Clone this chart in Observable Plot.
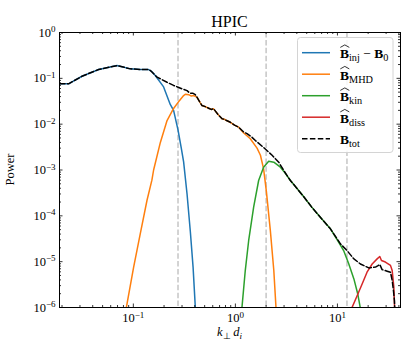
<!DOCTYPE html>
<html><head><meta charset="utf-8">
<script src="https://cdn.jsdelivr.net/npm/d3@7"></script>
<script src="https://cdn.jsdelivr.net/npm/@observablehq/plot@0.6"></script>
<style>
html,body{margin:0;padding:0;background:#fff;}
#chart{width:415px;height:360px;}
</style></head><body><div id="chart"></div>
<script>
// ---- data ----
const injK = [0.0189, 0.0232, 0.0314, 0.0457, 0.0692, 0.0935, 0.117, 0.141, 0.152, 0.164, 0.198, 0.23, 0.248, 0.274, 0.295, 0.311, 0.336, 0.362, 0.385, 0.405, 0.42];
const injP = [0.076, 0.076, 0.111, 0.156, 0.19, 0.161, 0.156, 0.155, 0.14, 0.115, 0.065, 0.027, 0.02, 0.0075, 0.003, 0.0015, 3e-4, 4.5e-5, 7.6e-6, 1e-6, 2e-7];

const mhdK = [0.08, 0.0854, 0.1007, 0.117, 0.136, 0.152, 0.158, 0.184, 0.214, 0.248, 0.284, 0.311, 0.323, 0.349, 0.37, 0.39, 0.42, 0.45, 0.471, 0.51, 0.547, 0.58, 0.612, 0.68, 0.741, 0.78, 0.82, 0.893, 0.98, 1.077, 1.2, 1.4, 1.63, 1.76, 1.89, 2.01, 2.2, 2.38, 2.5, 2.6];
const mhdP = [4e-7, 1e-6, 7.6e-6, 4.1e-5, 2.16e-4, 6e-4, 1.0e-3, 4e-3, 0.012, 0.022, 0.033, 0.042, 0.045, 0.044, 0.041, 0.042, 0.039, 0.03, 0.0255, 0.024, 0.0223, 0.021, 0.0216, 0.016, 0.0131, 0.0128, 0.012, 0.011, 0.0095, 0.0086, 0.0065, 0.0048, 0.003, 0.0021, 0.00106, 3.5e-4, 4.8e-5, 6.4e-6, 1e-6, 2e-7];

const kinK = [1.12, 1.16, 1.25, 1.35, 1.51, 1.69, 1.89, 2.12, 2.38, 2.76, 3.0, 3.46, 4.0, 4.68, 5.6, 6.8, 8.54, 10.3, 11.5, 12.9, 14.5, 15.8, 16.8, 17.5];
const kinP = [3e-7, 1e-6, 6.4e-6, 2.9e-5, 1.55e-4, 5.9e-4, 1.15e-3, 1.55e-3, 1.48e-3, 1.15e-3, 9.2e-4, 5.9e-4, 4.0e-4, 2.6e-4, 1.55e-4, 9.3e-5, 5.2e-5, 2.65e-5, 1.75e-5, 9e-6, 4.2e-6, 2e-6, 9.5e-7, 4e-7];

const dissK = [13.5, 13.9, 15.6, 17.5, 19.5, 21.9, 24.5, 26, 27, 29.5, 33.1, 34.4, 35.7, 36.3, 36.8];
const dissP = [5e-7, 1e-6, 1.8e-6, 3.3e-6, 5.9e-6, 8.9e-6, 1.15e-5, 1.3e-5, 1.06e-5, 9.8e-6, 8.3e-6, 6.4e-6, 2.8e-6, 1e-6, 3e-7];

const totK = [0.0189, 0.0232, 0.0314, 0.0457, 0.0692, 0.0935, 0.117, 0.141, 0.147, 0.171, 0.214, 0.248, 0.275, 0.30, 0.336, 0.36, 0.385, 0.405, 0.42, 0.45, 0.471, 0.51, 0.547, 0.58, 0.612, 0.68, 0.741, 0.78, 0.82, 0.893, 0.98, 1.077, 1.2, 1.3, 1.45, 1.57, 1.89, 2.29, 2.66, 3.0, 3.46, 4.0, 4.68, 5.6, 6.8, 8.54, 10.7, 12.4, 14.5, 16.8, 20.3, 23.6, 25, 26, 27.4, 30.7, 33.1, 34.4, 35.5, 36.2, 36.8];
const totP = [0.076, 0.076, 0.111, 0.156, 0.19, 0.161, 0.156, 0.155, 0.148, 0.106, 0.082, 0.070, 0.064, 0.059, 0.054, 0.047, 0.047, 0.044, 0.039, 0.030, 0.0255, 0.024, 0.0223, 0.021, 0.0216, 0.016, 0.0131, 0.0128, 0.012, 0.011, 0.0095, 0.0086, 0.0068, 0.0062, 0.0052, 0.0044, 0.0031, 0.0021, 0.00148, 9.5e-4, 5.9e-4, 4.0e-4, 2.6e-4, 1.55e-4, 9.3e-5, 5.2e-5, 2.45e-5, 1.75e-5, 1.15e-5, 8.9e-6, 7.3e-6, 7.6e-6, 8.2e-6, 8.7e-6, 6.7e-6, 6.2e-6, 5.9e-6, 3.9e-6, 2.2e-6, 1.4e-6, 5e-7];

const dividers = [0.274, 2.0, 12.4];
const xMajor = [0.1, 1, 10];
const yMajor = [1e-6, 1e-5, 1e-4, 1e-3, 1e-2, 1e-1, 1];
const xDomain = [0.0189, 41.5];
const yDomain = [1e-6, 1];

const legendColors = ["#1f77b4", "#ff7f0e", "#2ca02c", "#d62728", "black"];
const legendSubs = ["inj", "MHD", "kin", "diss", "tot"];
const legendHat = [true, true, true, true, false];

const titleText = "HPIC";
const yLabelText = "Power";

// ---- build ----
const rows = (ks, ps) => ks.map((k, i) => ({k, p: ps[i]}));
const W = 415, H = 360, mL = 59, mR = 15, mT = 32, mB = 53;
const fw = W - mL - mR, fh = H - mT - mB;

const xMinor = [], yMinor = [];
for (let e = -2; e <= 1; e++) for (let m = 2; m <= 9; m++) {
  const v = +(m * Math.pow(10, e)).toPrecision(6);
  if (v >= xDomain[0] && v <= xDomain[1]) xMinor.push(v);
}
for (let e = -6; e < 0; e++) for (let m = 2; m <= 9; m++) yMinor.push(+(m * Math.pow(10, e)).toPrecision(6));

const fmt = d => "10^" + String(Math.round(Math.log10(d))).replace("-", "\u2212");
const font = "'Liberation Serif', 'Times New Roman', serif";
const lineOpts = {x: "k", y: "p", strokeWidth: 1.5, clip: true, curve: "linear"};
const tk = {stroke: "black", strokeWidth: 0.8};

const plot = Plot.plot({
  width: W, height: H,
  marginLeft: mL, marginRight: mR, marginTop: mT, marginBottom: mB,
  style: {fontFamily: font, fontSize: "12.5px", background: "white", color: "black"},
  x: {type: "log", domain: xDomain},
  y: {type: "log", domain: yDomain},
  marks: [
    Plot.ruleX(dividers, {stroke: "#bdbdbd", strokeWidth: 1.3, strokeDasharray: "5.5,2.4"}),
    Plot.line(rows(injK, injP), {...lineOpts, stroke: legendColors[0]}),
    Plot.line(rows(mhdK, mhdP), {...lineOpts, stroke: legendColors[1]}),
    Plot.line(rows(kinK, kinP), {...lineOpts, stroke: legendColors[2]}),
    Plot.line(rows(dissK, dissP), {...lineOpts, stroke: legendColors[3]}),
    Plot.line(rows(totK, totP), {...lineOpts, stroke: "black", strokeDasharray: "5.5,2.4"}),
    Plot.frame({stroke: "black", strokeWidth: 1}),
    Plot.tickX(xMajor, {x: d => d, insetTop: fh - 3.5, ...tk}),
    Plot.tickX(xMajor, {x: d => d, insetBottom: fh - 3.5, ...tk}),
    Plot.tickX(xMinor, {x: d => d, insetTop: fh - 2, ...tk}),
    Plot.tickX(xMinor, {x: d => d, insetBottom: fh - 2, ...tk}),
    Plot.tickY(yMajor, {y: d => d, insetRight: fw - 3.5, ...tk}),
    Plot.tickY(yMajor, {y: d => d, insetLeft: fw - 3.5, ...tk}),
    Plot.tickY(yMinor, {y: d => d, insetRight: fw - 2, ...tk}),
    Plot.tickY(yMinor, {y: d => d, insetLeft: fw - 2, ...tk}),
    Plot.axisX({ticks: xMajor, tickSize: 0, tickPadding: 6, tickFormat: fmt, fontSize: 12.5, label: null}),
    Plot.axisY({ticks: yMajor, tickSize: 0, tickPadding: 4, tickFormat: fmt, fontSize: 12.5, label: null})
  ]
});
document.getElementById("chart").appendChild(plot);

const svg = d3.select(plot);
// superscript exponents on tick labels
svg.selectAll('g[aria-label="x-axis tick label"] text, g[aria-label="y-axis tick label"] text').each(function () {
  const t = d3.select(this);
  const s = t.text();
  if (!s.includes("^")) return;
  const [base, ex] = s.split("^");
  t.text("");
  t.append("tspan").text(base);
  t.append("tspan").attr("dy", "-0.5em").attr("font-size", "0.72em").text(ex);
});

// title
svg.append("text").attr("x", mL + fw / 2).attr("y", 26.5).attr("text-anchor", "middle")
  .attr("font-family", font).attr("font-size", 16).attr("fill", "black").text(titleText);

// y label
svg.append("text").attr("transform", `translate(14,${mT + fh / 2}) rotate(-90)`)
  .attr("text-anchor", "middle").attr("font-family", font).attr("font-size", 12.5)
  .attr("fill", "black").text(yLabelText);

// x label  k_perp d_i
const xl = svg.append("text").attr("x", mL + fw / 2).attr("y", 336).attr("text-anchor", "middle")
  .attr("font-family", font).attr("font-size", 12.5).attr("fill", "black");
xl.append("tspan").attr("font-style", "italic").text("k");
xl.append("tspan").attr("font-size", "0.72em").attr("dy", 3).text("\u22A5");
xl.append("tspan").attr("font-style", "italic").attr("dy", -3).text("\u2009d");
xl.append("tspan").attr("font-style", "italic").attr("font-size", "0.72em").attr("dy", 3).text("i");

// legend
const lfs = 13.5;
const lg = svg.append("g").attr("font-family", font).attr("font-size", lfs).attr("fill", "black")
  .attr("text-anchor", "start").style("white-space", "pre");
lg.append("rect").attr("x", 297.5).attr("y", 37.5).attr("width", 95.5).attr("height", 115)
  .attr("rx", 3).attr("fill", "white").attr("fill-opacity", 0.85).attr("stroke", "#d4d4d4").attr("stroke-width", 1);
legendSubs.forEach((sub, i) => {
  const y = 52.7 + 21.5 * i;
  const ln = lg.append("line").attr("x1", 302).attr("x2", 330).attr("y1", y).attr("y2", y)
    .attr("stroke", legendColors[i]).attr("stroke-width", 1.5);
  if (i === 4) ln.attr("stroke-dasharray", "5.5,2.4");
  const yb = y + 5.5;
  const t = lg.append("text").attr("x", 340).attr("y", yb).attr("text-anchor", "start");
  t.append("tspan").attr("font-weight", "bold").text("B");
  t.append("tspan").attr("font-size", "0.76em").attr("dy", 3).text(sub);
  if (i === 0) {
    t.append("tspan").attr("dy", -3).text(" \u2212 ");
    t.append("tspan").attr("font-weight", "bold").text("B");
    t.append("tspan").attr("font-size", "0.76em").attr("dy", 3).text("0");
  }
  if (legendHat[i]) {
    lg.append("path").attr("d", `M340.3,${yb - 10.8} L344.8,${yb - 13.3} L349.3,${yb - 10.8}`)
      .attr("fill", "none").attr("stroke", "black").attr("stroke-width", 0.8);
  }
});
</script>
</body></html>
